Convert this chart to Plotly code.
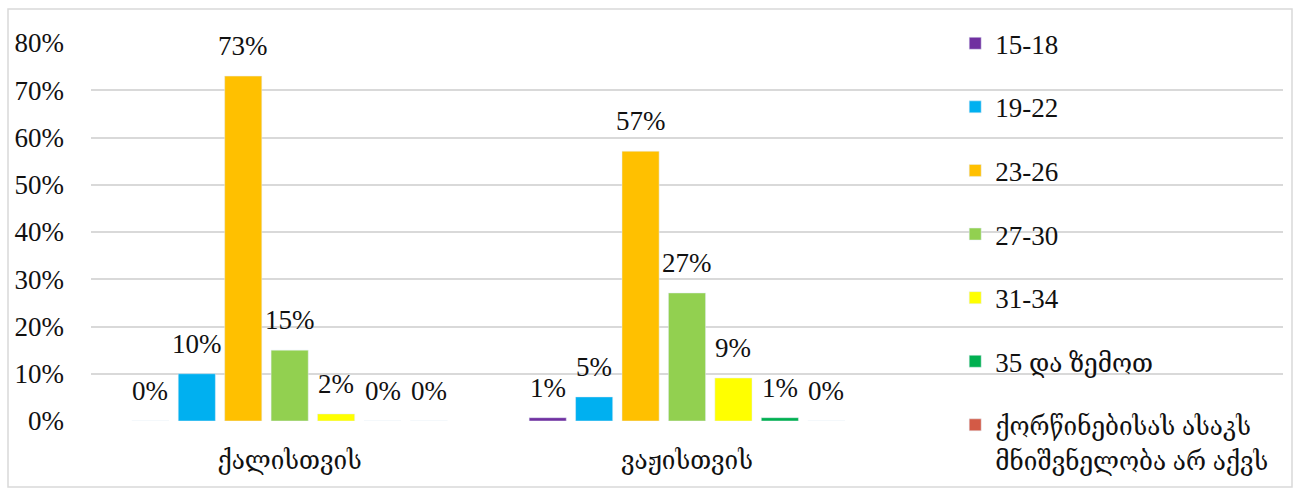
import plotly.graph_objects as go

categories = ["ქალისთვის", "ვაჟისთვის"]
series_names = ["15-18", "19-22", "23-26", "27-30", "31-34", "35 და ზემოთ",
                "ქორწინებისას ასაკს<br>მნიშვნელობა არ აქვს"]
values = [
    [0, 0.7],
    [10, 5.1],
    [73, 57.1],
    [15, 27.1],
    [1.5, 9.1],
    [0, 0.7],
    [0, 0],
]
colors = ["#7030A0", "#00B0F0", "#FFC000", "#92D050", "#FFFF00", "#00B050", "#D35A46"]
y_ticks = [0, 10, 20, 30, 40, 50, 60, 70, 80]
y_tick_labels = [f"{t}%" for t in y_ticks]

FONT = "Liberation Serif, DejaVu Serif Condensed, DejaVu Serif, serif"
FS = 27
BARGAP = 0.182
BARGROUPGAP = 0.2

fig = go.Figure()
n = len(series_names)
annotations = []
for j, (name, vals, col) in enumerate(zip(series_names, values, colors)):
    fig.add_trace(go.Bar(
        x=categories, y=vals, name=name, marker_color=col,
        legendgroup=f"g{j}", hoverinfo="skip",
    ))
    for i, v in enumerate(vals):
        annotations.append(dict(
            x=i + (j - (n - 1) / 2) * (1 - BARGAP) / n, y=v,
            xref="x", yref="y", text=f"{v:.0f}%", showarrow=False,
            yanchor="middle", yshift=30,
            font=dict(family=FONT, size=FS, color="#111111"),
        ))

fig.update_layout(
    width=1299, height=488,
    margin=dict(l=91, r=16, t=43, b=67, autoexpand=False),
    paper_bgcolor="white", plot_bgcolor="white",
    barmode="group", bargap=BARGAP, bargroupgap=BARGROUPGAP,
    font=dict(family=FONT, size=FS, color="#111111"),
    annotations=annotations,
    legend=dict(
        x=0.725, y=1.063, xanchor="left", yanchor="top",
        font=dict(family=FONT, size=FS, color="#111111"),
        tracegroupgap=25.5, valign="top", bgcolor="rgba(0,0,0,0)",
        maxheight=488,
    ),
    xaxis=dict(
        type="category", range=[-0.5, 2.5], showgrid=False, showline=False,
        zeroline=False, ticks="", ticklabelstandoff=20,
    ),
    yaxis=dict(
        range=[0, 80], tickmode="array", tickvals=y_ticks, ticktext=y_tick_labels,
        showgrid=True, gridcolor="#D9D9D9", gridwidth=1.5, zeroline=False,
        showline=False, ticks="", ticklabelstandoff=26,
    ),
    shapes=[dict(
        type="rect", xref="paper", yref="paper",
        x0=(8 - 91) / 1192, x1=(1292 - 91) / 1192,
        y0=(421 - 487) / 378, y1=(421 - 9) / 378,
        line=dict(color="#D9D9D9", width=1.5), fillcolor="rgba(0,0,0,0)", layer="below",
    )],
)

fig.write_html(
    "out.html",
    config={"displayModeBar": False},
    post_script="document.body.style.margin='0';document.body.style.overflow='hidden';",
)
